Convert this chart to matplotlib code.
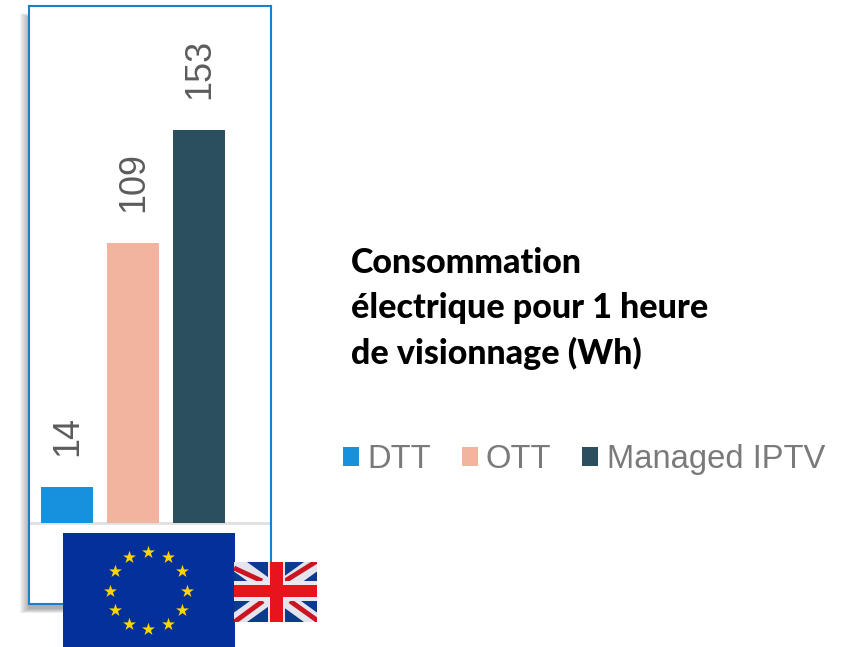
import matplotlib
matplotlib.use('Agg')
import matplotlib.pyplot as plt
import numpy as np
from matplotlib.patches import Rectangle

W, H = 854, 647

categories = ['DTT', 'OTT', 'Managed IPTV']
values = [14, 109, 153]
colors = ['#1592DB', '#F2B49E', '#2B4F5C']
title_lines = ['Consommation', 'électrique pour 1 heure', 'de visionnage (Wh)']


# axes placed with pixel box, y counted from the top like in the picture
def px_axes(x0, y0, x1, y1, **kw):
    return fig.add_axes([x0 / W, 1 - y1 / H, (x1 - x0) / W, (y1 - y0) / H], **kw)


fig = plt.figure(figsize=(W / 100, H / 100), dpi=100, facecolor='white')

# page layer for the drop shadow, only left and bottom of the frame
bg = px_axes(0, 0, W, H, zorder=0)
bg.set_xlim(0, W)
bg.set_ylim(H, 0)
bg.axis('off')
for i in range(10):
    bg.add_patch(Rectangle((20 + i, 13 + i * 0.5), 251 - i, 600 - i * 1.0, color='#555555', alpha=0.06, lw=0))

# the chart itself
ax = px_axes(29, 6, 271, 604, zorder=1)
ax.set_facecolor('white')
for pos, name, val, col in zip(range(3), categories, values, colors):
    ax.bar(pos, val, width=0.788, color=col, label=name)
    ax.annotate(str(val), (pos, val), xytext=(0.7, 22.5), textcoords='offset points',
                rotation=90, ha='center', va='bottom', fontsize=25.9,
                color='#5C5C5C', family='Liberation Sans')
ax.set_xlim(-0.576, 3.09)
ax.set_ylim(-31.4, 201.2)
ax.axhline(0, xmin=0.01, xmax=0.995, color='#E0E0E0', lw=2, zorder=0)
ax.set_xticks([])
ax.set_yticks([])
for s in ax.spines.values():
    s.set_color('#1B7FCC')
    s.set_linewidth(1.5)

leg = fig.legend(loc='center left', bbox_to_anchor=(343 / W, 1 - 459.5 / H), ncol=3, frameon=False,
                 prop={'family': 'Liberation Sans', 'size': 23.6}, labelcolor='#7A7A7A',
                 handlelength=0.49, handleheight=0.49, handletextpad=0.25,
                 columnspacing=0.94, borderpad=0, borderaxespad=0)

# title on the right
for line, y in zip(title_lines, [263, 308, 353]):
    fig.text(351 / W, 1 - y / H, line, family='Lato', fontweight='black', fontsize=24.5,
             color='black', va='center', ha='left')

# EU flag
eu = px_axes(63, 533, 235, 647, zorder=2)
eu.set_xlim(63, 235)
eu.set_ylim(647, 533)
eu.set_facecolor('#03309A')
eu.set_xticks([])
eu.set_yticks([])
for s in eu.spines.values():
    s.set_visible(False)
angles = np.deg2rad(np.arange(0, 360, 30))
eu.scatter(148.5 + 38.5 * np.sin(angles), 590.5 - 38.5 * np.cos(angles), marker='*',
           s=95, color='#FFD500', lw=0)

# UK flag
uk = px_axes(234, 562, 317, 622, zorder=3)
uk.set_xlim(234, 317)
uk.set_ylim(622, 562)
uk.set_facecolor('#0C3A8F')
uk.set_xticks([])
uk.set_yticks([])
for s in uk.spines.values():
    s.set_visible(False)
uk.plot([234, 317], [562, 622], color='#E4E4EC', lw=11, solid_capstyle='butt')
uk.plot([234, 317], [622, 562], color='#E4E4EC', lw=11, solid_capstyle='butt')
uk.plot([234, 262], [568, 581], color='#CC1420', lw=3.5, solid_capstyle='butt')
uk.plot([285, 317], [581, 561], color='#CC1420', lw=3.5, solid_capstyle='butt')
uk.plot([233, 263], [623, 601], color='#CC1420', lw=3.5, solid_capstyle='butt')
uk.plot([290, 318], [601, 621], color='#CC1420', lw=3.5, solid_capstyle='butt')
uk.add_patch(Rectangle((267.5, 562), 17, 60, color='#E8E8EE', lw=0, zorder=4))
uk.add_patch(Rectangle((234, 581), 83, 20, color='#E8E8EE', lw=0, zorder=4))
uk.add_patch(Rectangle((269.5, 562), 13, 60, color='#E8141C', lw=0, zorder=5))
uk.add_patch(Rectangle((234, 585), 83, 12, color='#E8141C', lw=0, zorder=5))

plt.savefig('out.png', dpi=100)
